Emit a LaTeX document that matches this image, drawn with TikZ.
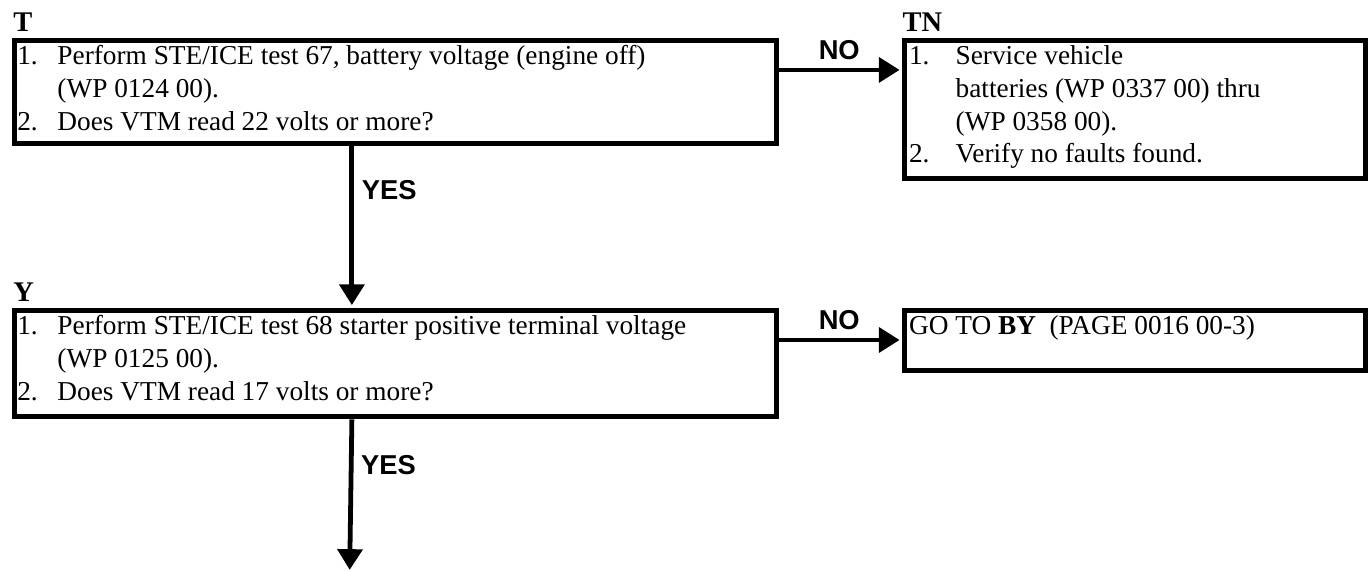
\documentclass[tikz,border=0pt]{standalone}
\usepackage{fontspec}
\setmainfont{Liberation Serif}
\setsansfont{Liberation Sans}
\usepackage{array}
\usetikzlibrary{arrows.meta}

\begin{document}
\begin{tikzpicture}[
    box/.style={draw, line width=2.2pt, minimum width=11.77cm, minimum height=1.59cm, inner sep=0pt},
    sidebox/.style={box, minimum width=7.12cm},
    steptext/.style={anchor=north west, inner sep=0pt, align=left, font=\fontsize{12pt}{14.4pt}\selectfont},
    tag/.style={anchor=south west, inner sep=0pt, font=\fontsize{12.5pt}{15pt}\selectfont\bfseries},
    flow/.style={line width=2.1pt, -{Triangle[length=0.32cm, width=0.38cm]}},
    answer/.style={font=\sffamily\bfseries\fontsize{12pt}{14pt}\selectfont}
]

    % --- 0. page frame ---
    \useasboundingbox (0, 0) rectangle (21.14, -8.83);

    % --- 1. step T (battery voltage) ---
    \node[box, anchor=north west] (t) at (0.18, -0.58) {};
    \node[tag] (tlabel) at ([xshift=0.02cm, yshift=0.08cm]t.north west) {T};
    \node[steptext] (ttext) at ([xshift=0.08cm, yshift=-0.055cm]t.north west) {%
        \begin{tabular}{@{}p{0.62cm}@{}l@{}}
        1. & Perform STE/ICE test 67, battery voltage (engine off)\\
           & (WP 0124 00).\\
        2. & Does VTM read 22 volts or more?
        \end{tabular}};

    % TN (NO branch)
    \node[sidebox, minimum height=2.14cm, anchor=north west] (tn) at (13.93, -0.58) {};
    \node[tag] (tnlabel) at ([xshift=0.0cm, yshift=0.08cm]tn.north west) {TN};
    \node[steptext] (tntext) at ([xshift=0.1cm, yshift=-0.055cm]tn.north west) {%
        \begin{tabular}{@{}p{0.72cm}@{}l@{}}
        1. & Service vehicle\\
           & batteries (WP 0337 00) thru\\
           & (WP 0358 00).\\
        2. & Verify no faults found.
        \end{tabular}};

    % --- 2. step Y (starter terminal voltage) ---
    \node[box, minimum height=1.65cm, anchor=north west] (y) at (0.18, -4.75) {};
    \node[tag] (ylabel) at ([xshift=0.02cm, yshift=0.08cm]y.north west) {Y};
    \node[steptext] (ytext) at ([xshift=0.08cm, yshift=-0.055cm]y.north west) {%
        \begin{tabular}{@{}p{0.62cm}@{}l@{}}
        1. & Perform STE/ICE test 68 starter positive terminal voltage\\
           & (WP 0125 00).\\
        2. & Does VTM read 17 volts or more?
        \end{tabular}};

    % BY (NO branch)
    \node[sidebox, minimum height=0.93cm, anchor=north west] (by) at (13.93, -4.75) {};
    \node[steptext] (bytext) at ([xshift=0.1cm, yshift=-0.055cm]by.north west) {%
        \begin{tabular}{@{}l@{}}
        GO TO \textbf{BY}\ \ (PAGE 0016 00-3)
        \end{tabular}};

    % --- 3. connectors ---
    \coordinate (next) at (5.40, -8.80); % open end, next page

    \draw[flow] ([yshift=-0.5cm]t.north east) -- ([xshift=-1.1pt, yshift=-0.5cm]tn.north west)
        node[midway, above, answer] (no1) {NO};
    \draw[flow] ([xshift=-0.67cm]t.south) -- ([xshift=-0.67cm, yshift=1.1pt]y.north)
        node[pos=0.28, right, answer] (yes1) {YES};

    \draw[flow] ([yshift=-0.5cm]y.north east) -- ([xshift=-1.1pt, yshift=-0.5cm]by.north west)
        node[midway, above, answer] (no2) {NO};
    \draw[flow] ([xshift=-0.67cm]y.south) -- (next)
        node[pos=0.3, right, answer] (yes2) {YES};

\end{tikzpicture}
\end{document}
